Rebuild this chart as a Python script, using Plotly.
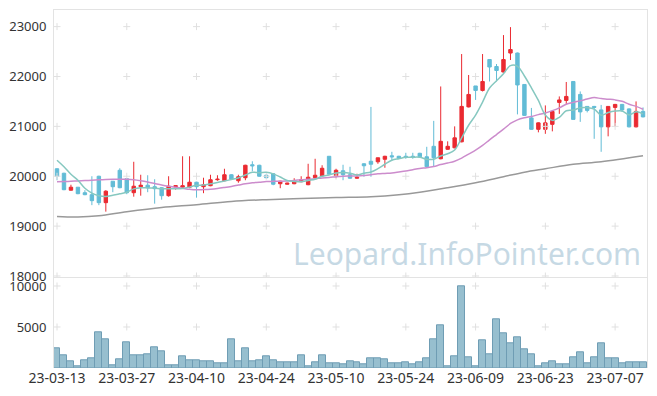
import plotly.graph_objects as go
from plotly.subplots import make_subplots

dates = [
    "23-03-13", "23-03-14", "23-03-15", "23-03-16", "23-03-17", "23-03-20", "23-03-21", "23-03-22", "23-03-23", "23-03-24",
    "23-03-27", "23-03-28", "23-03-29", "23-03-30", "23-03-31", "23-04-03", "23-04-04", "23-04-05", "23-04-06", "23-04-07",
    "23-04-10", "23-04-11", "23-04-12", "23-04-13", "23-04-14", "23-04-17", "23-04-18", "23-04-19", "23-04-20", "23-04-21",
    "23-04-24", "23-04-25", "23-04-26", "23-04-27", "23-04-28", "23-05-02", "23-05-03", "23-05-04", "23-05-08", "23-05-09",
    "23-05-10", "23-05-11", "23-05-12", "23-05-15", "23-05-16", "23-05-17", "23-05-18", "23-05-19", "23-05-22", "23-05-23",
    "23-05-24", "23-05-25", "23-05-26", "23-05-30", "23-05-31", "23-06-01", "23-06-02", "23-06-05", "23-06-07", "23-06-08",
    "23-06-09", "23-06-12", "23-06-13", "23-06-14", "23-06-15", "23-06-16", "23-06-19", "23-06-20", "23-06-21", "23-06-22",
    "23-06-23", "23-06-26", "23-06-27", "23-06-28", "23-06-29", "23-06-30", "23-07-03", "23-07-04", "23-07-05", "23-07-06",
    "23-07-07", "23-07-10", "23-07-11", "23-07-12", "23-07-13",
]

open_ = [
    20150, 20060, 19720, 19780, 19670, 19630, 20000, 19470, 19900, 20120,
    19950, 19670, 19790, 19820, 19790, 19770, 19610, 19790, 19780, 19780,
    19880, 19790, 19810, 19930, 19910, 20030, 19910, 19970, 20230, 20220,
    20020, 20050, 19850, 19840, 19850, 19890, 19830, 19970, 20010, 20400,
    20010, 20110, 20030, 19960, 20250, 20300, 20290, 20340, 20410, 20400,
    20400, 20400, 20460, 20390, 20600, 20350, 20540, 20570, 20690, 21390,
    21810, 21720, 22340, 22200, 22090, 22470, 22470, 21840, 21170, 20940,
    20940, 21040, 21480, 21520, 21900, 21640, 21400, 21400, 21330, 20990,
    21380, 21440, 21350, 20990, 21300,
]
high = [
    20160, 20070, 19830, 19780, 19720, 20000, 20010, 19720, 19900, 20160,
    19960, 20290, 20030, 20020, 19940, 19780, 20000, 19820, 20400, 20400,
    19890, 19970, 20030, 20020, 20150, 20040, 20030, 20230, 20300, 20230,
    20040, 20060, 19910, 19870, 19960, 20000, 20250, 20350, 20220, 20400,
    20150, 20230, 20190, 20050, 20260, 21390, 20370, 20410, 20490, 20410,
    20470, 20470, 20470, 20590, 21110, 21800, 20700, 21000, 22450, 22030,
    21810, 22450, 22350, 22250, 22830, 22990, 22480, 21840, 21370, 21080,
    21420, 21310, 21600, 21890, 21900, 21700, 21400, 21410, 21430, 21400,
    21450, 21450, 21360, 21500, 21380,
]
low = [
    19920, 19720, 19710, 19640, 19620, 19420, 19420, 19290, 19680, 19760,
    19640, 19590, 19610, 19680, 19450, 19530, 19590, 19730, 19750, 19760,
    19570, 19660, 19800, 19910, 19900, 19930, 19870, 19920, 20100, 19990,
    19960, 19820, 19760, 19830, 19840, 19880, 19820, 19960, 20000, 20030,
    19960, 19920, 19950, 19950, 19990, 19990, 20250, 20170, 20320, 20350,
    20350, 20350, 20370, 20180, 20190, 20340, 20530, 20560, 20680, 21380,
    21530, 21700, 21900, 21900, 22080, 22330, 21240, 21210, 20930, 20880,
    20850, 20900, 21250, 21450, 21140, 21090, 21280, 20750, 20490, 20800,
    20990, 21290, 20980, 20980, 21180,
]
close = [
    20000, 19730, 19780, 19650, 19630, 19510, 19470, 19700, 19790, 19770,
    19670, 19800, 19820, 19770, 19750, 19610, 19800, 19810, 19810, 19880,
    19790, 19830, 19930, 19940, 20030, 19940, 19990, 20220, 20210, 20000,
    19970, 19840, 19900, 19860, 19910, 19930, 19980, 20020, 20160, 20040,
    20120, 20030, 19960, 19980, 20210, 20240, 20370, 20400, 20390, 20360,
    20380, 20380, 20390, 20190, 20370, 20700, 20600, 20770, 21400, 21640,
    21720, 21900, 22190, 22120, 22340, 22540, 21830, 21220, 20940, 21070,
    21070, 21300, 21530, 21600, 21140, 21290, 21320, 21380, 20990, 21400,
    21440, 21330, 20990, 21300, 21190,
]

ma5 = [
    20320, 20190, 20040, 19920, 19758, 19660, 19608, 19592, 19620, 19648,
    19680, 19746, 19770, 19766, 19762, 19750, 19750, 19748, 19756, 19782,
    19818, 19824, 19848, 19874, 19904, 19934, 19966, 20024, 20078, 20072,
    20078, 20048, 19984, 19914, 19896, 19888, 19916, 19940, 20000, 20026,
    20064, 20074, 20062, 20026, 20060, 20084, 20152, 20240, 20322, 20352,
    20380, 20382, 20380, 20340, 20342, 20406, 20450, 20526, 20768, 21022,
    21226, 21486, 21770, 21914, 22054, 22218, 22204, 22010, 21774, 21520,
    21226, 21120, 21182, 21314, 21328, 21372, 21376, 21346, 21224, 21276,
    21306, 21308, 21230, 21292, 21250,
]
ma20 = [
    19890, 19893, 19900, 19905, 19912, 19920, 19928, 19935, 19940, 19942,
    19940, 19930, 19910, 19885, 19855, 19825, 19800, 19780, 19760, 19738,
    19727, 19732, 19740, 19754, 19774, 19796, 19822, 19848, 19869, 19880,
    19895, 19897, 19901, 19906, 19914, 19930, 19939, 19949, 19967, 19975,
    19991, 20001, 20003, 20005, 20014, 20029, 20048, 20057, 20066, 20084,
    20104, 20131, 20156, 20172, 20195, 20234, 20265, 20302, 20364, 20444,
    20524, 20618, 20729, 20836, 20943, 21058, 21131, 21172, 21199, 21235,
    21269, 21315, 21372, 21443, 21481, 21511, 21547, 21577, 21557, 21545,
    21531, 21502, 21442, 21401, 21344,
]
ma_long_dates = [
    "23-03-13", "23-03-16", "23-03-21", "23-03-27", "23-04-03", "23-04-10", "23-04-17",
    "23-04-24", "23-05-02", "23-05-10", "23-05-17", "23-05-23", "23-05-26", "23-06-02",
    "23-06-09", "23-06-15", "23-06-20", "23-06-23", "23-06-29", "23-07-05", "23-07-13",
]
ma_long = [
    19195, 19185, 19210, 19290, 19375, 19430, 19495,
    19530, 19553, 19573, 19590, 19630, 19680, 19770,
    19870, 19990, 20080, 20150, 20240, 20290, 20410,
]

volume = [
    2360, 1510, 815, 170, 940, 1145, 4355, 3465, 290, 1025,
    3135, 1510, 1510, 1635, 2490, 2040, 290, 290, 1390, 940,
    940, 815, 815, 535, 535, 3465, 815, 2360, 815, 940,
    1390, 940, 695, 695, 695, 1510, 170, 695, 1510, 535,
    535, 415, 780, 660, 415, 1145, 1145, 1025, 535, 535,
    660, 415, 660, 1145, 3465, 5175, 170, 1390, 9930, 1270,
    170, 3345, 1635, 5905, 4195, 2975, 3710, 2245, 1635, 170,
    535, 780, 415, 415, 1270, 1880, 535, 1270, 2975, 1145,
    1145, 535, 660, 660, 660,
]

price_ticks = [18000, 19000, 20000, 21000, 22000, 23000]
price_labels = ["18000", "19000", "20000", "21000", "22000", "23000"]
volume_ticks = [5000, 10000]
volume_labels = ["5000", "10000"]
x_ticks = dates[::10]

RED = "#ea2a31"
BLUE = "#62bcd6"
GRID = "#e0e0e0"
AXIS = "#e3e3e3"
FONT = "Noto Sans"

fig = make_subplots(rows=2, cols=1, shared_xaxes=True, vertical_spacing=0)

# grid crosses
gx, gy = [], []
for xv in x_ticks:
    for yv in price_ticks:
        gx.append(xv)
        gy.append(yv)
fig.add_trace(go.Scatter(x=gx, y=gy, mode="markers", hoverinfo="skip",
                         marker=dict(symbol="cross-thin", size=5, line=dict(color=GRID, width=1))),
              row=1, col=1)
vx, vy = [], []
for xv in x_ticks:
    for yv in volume_ticks:
        vx.append(xv)
        vy.append(yv)
fig.add_trace(go.Scatter(x=vx, y=vy, mode="markers", hoverinfo="skip",
                         marker=dict(symbol="cross-thin", size=5, line=dict(color=GRID, width=1))),
              row=2, col=1)

fig.add_trace(go.Candlestick(
    x=dates, open=open_, high=high, low=low, close=close,
    increasing=dict(line=dict(color=RED, width=1), fillcolor=RED),
    decreasing=dict(line=dict(color=BLUE, width=1), fillcolor=BLUE),
    whiskerwidth=0,
), row=1, col=1)

fig.add_trace(go.Scatter(x=ma_long_dates, y=ma_long, mode="lines",
                         line=dict(color="#999999", width=1.5, shape="spline")), row=1, col=1)
fig.add_trace(go.Scatter(x=dates, y=ma20, mode="lines",
                         line=dict(color="#cc8ccc", width=1.5, shape="spline")), row=1, col=1)
fig.add_trace(go.Scatter(x=dates, y=ma5, mode="lines",
                         line=dict(color="#86c8c0", width=1.5, shape="spline")), row=1, col=1)

fig.add_trace(go.Bar(x=dates, y=volume,
                     marker=dict(color="#97bfcf", line=dict(color="#6f9db4", width=1))),
              row=2, col=1)

split = 0.2534
xcommon = dict(type="category", categoryorder="array", categoryarray=dates,
               range=[-0.43, 84.57], showgrid=False, zeroline=False,
               tickmode="array", tickvals=x_ticks, ticktext=x_ticks,
               tickfont=dict(family=FONT, size=14, color="#333333"))
fig.update_layout(
    width=657, height=396,
    margin=dict(l=53, r=9, t=10, b=28),
    paper_bgcolor="white", plot_bgcolor="white",
    showlegend=False, bargap=0,
    xaxis=dict(**xcommon, rangeslider=dict(visible=False), showticklabels=False,
               showline=True, linecolor=AXIS, linewidth=1, mirror=True),
    xaxis2=dict(**xcommon, showline=False, ticks="", ticklabelstandoff=0),
    yaxis=dict(domain=[split, 1], range=[17974, 23333], tickmode="array",
               tickvals=price_ticks, ticktext=price_labels,
               showgrid=False, zeroline=False, showline=True, linecolor=AXIS, mirror=True,
               tickfont=dict(family=FONT, size=13, color="#333333"), ticklabelstandoff=4),
    yaxis2=dict(domain=[0, split], range=[0, 11060], tickmode="array",
                tickvals=volume_ticks, ticktext=volume_labels,
                showgrid=False, zeroline=False, showline=True, linecolor=AXIS, mirror=True,
                tickfont=dict(family=FONT, size=13, color="#333333"), ticklabelstandoff=4),
    annotations=[dict(text="Leopard.InfoPointer.com", xref="paper", yref="paper",
                      x=0.6966, y=0.321, xanchor="center", yanchor="middle", showarrow=False,
                      font=dict(family=FONT, size=30, color="rgba(180,205,220,0.75)"))],
)

fig.write_html("out.html", config={"displayModeBar": False},
               post_script="document.body.style.margin='0';")
